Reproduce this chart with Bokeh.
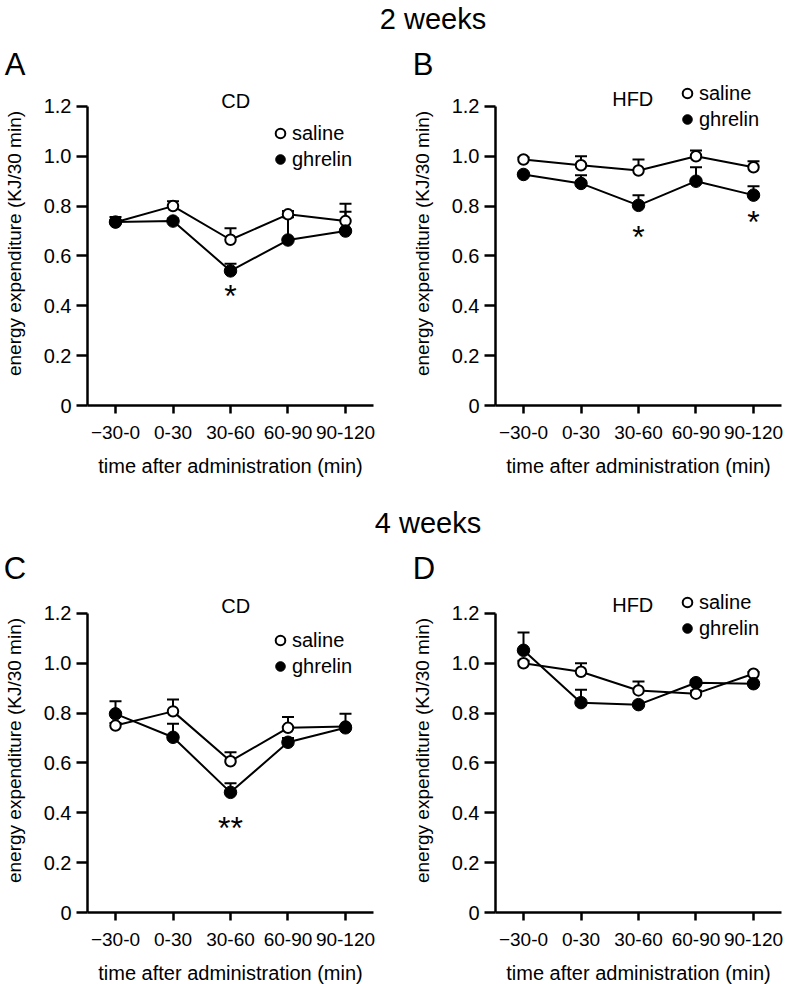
from bokeh.plotting import figure
from bokeh.layouts import column, row
from bokeh.models import (ColumnDataSource, Range1d, FixedTicker, CustomJSTickFormatter,
                          Whisker, TeeHead, Label, Legend, LegendItem)
from bokeh.core.properties import value
from bokeh.embed import file_html
from bokeh.resources import INLINE

# ---------------- data ----------------
categories = ["\u221230-0", "0-30", "30-60", "60-90", "90-120"]
y_ticks = [0, 0.2, 0.4, 0.6, 0.8, 1.0, 1.2]

# A: 2 weeks, CD
a_saline = [0.735, 0.800, 0.665, 0.767, 0.740]
a_saline_top = [0.745, 0.820, 0.711, 0.780, 0.809]
a_ghrelin = [0.736, 0.740, 0.540, 0.664, 0.700]
a_ghrelin_top = [0.756, 0.750, 0.569, 0.755, 0.777]
a_sig_cat = ["30-60"]
a_sig_y = [0.46]
a_sig_text = ["*"]

# B: 2 weeks, HFD
b_saline = [0.987, 0.964, 0.943, 1.000, 0.956]
b_saline_top = [0.995, 1.000, 0.987, 1.023, 0.980]
b_ghrelin = [0.927, 0.891, 0.803, 0.900, 0.844]
b_ghrelin_top = [0.930, 0.924, 0.844, 0.956, 0.880]
b_sig_cat = ["30-60", "90-120"]
b_sig_y = [0.696, 0.756]
b_sig_text = ["*", "*"]

# C: 4 weeks, CD
c_saline = [0.750, 0.807, 0.607, 0.741, 0.746]
c_saline_top = [0.760, 0.855, 0.643, 0.784, 0.797]
c_ghrelin = [0.797, 0.703, 0.482, 0.683, 0.741]
c_ghrelin_top = [0.848, 0.757, 0.519, 0.700, 0.750]
c_sig_cat = ["30-60"]
c_sig_y = [0.36]
c_sig_text = ["**"]

# D: 4 weeks, HFD
d_saline = [1.000, 0.966, 0.891, 0.878, 0.958]
d_saline_top = [1.010, 1.000, 0.927, 0.890, 0.965]
d_ghrelin = [1.052, 0.842, 0.834, 0.922, 0.918]
d_ghrelin_top = [1.123, 0.894, 0.840, 0.930, 0.925]
d_sig_cat = []
d_sig_y = []
d_sig_text = []

# ---------------- style / layout ----------------
FONT = "Liberation Sans"
FRAME_W, FRAME_H = 286, 324
X_RANGE = (-0.487, 4.487)
Y_RANGE = (0, 1.3)


def make_panel(diet, saline, saline_top, ghrelin, ghrelin_top, sig_cat, sig_y, sig_text,
               diet_pos, legend_loc, border_right):
    p = figure(frame_width=FRAME_W, frame_height=FRAME_H,
               min_border_left=87, min_border_right=border_right,
               min_border_top=0, min_border_bottom=85,
               x_range=Range1d(*X_RANGE), y_range=Range1d(*Y_RANGE),
               output_backend="svg", toolbar_location=None, title=None)
    p.outline_line_color = None
    p.xgrid.visible = False
    p.ygrid.visible = False
    p.background_fill_color = "white"
    p.border_fill_color = "white"

    xa = p.xaxis[0]
    ya = p.yaxis[0]
    xa.ticker = FixedTicker(ticks=list(range(len(categories))))
    xa.formatter = CustomJSTickFormatter(args=dict(labels=categories),
                                         code="return labels[Math.round(tick)];")
    ya.ticker = FixedTicker(ticks=y_ticks)
    ya.formatter = CustomJSTickFormatter(code="return tick == 0 ? '0' : tick.toFixed(1);")
    ya.bounds = (0, 1.2)
    for ax in (xa, ya):
        ax.axis_line_width = 2.5
        ax.axis_line_color = "black"
        ax.major_tick_line_width = 2.5
        ax.major_tick_line_color = "black"
        ax.minor_tick_line_color = None
        ax.major_tick_in = 0
        ax.major_label_text_font = FONT
        ax.major_label_text_color = "black"
        ax.axis_label_text_font = FONT
        ax.axis_label_text_font_style = "normal"
        ax.axis_label_text_color = "black"
    xa.major_label_text_font_size = "19px"
    ya.major_label_text_font_size = "20px"
    xa.major_tick_out = 8
    ya.major_tick_out = 11
    ya.major_label_standoff = 5
    xa.major_label_standoff = 12
    xa.axis_label = "time after administration (min)"
    xa.axis_label_standoff = 13
    xa.axis_label_text_font_size = "20px"
    ya.axis_label = "energy expenditure (KJ/30 min)"
    ya.axis_label_standoff = 16
    ya.axis_label_text_font_size = "19px"

    src = ColumnDataSource(dict(x=list(range(len(categories))), saline=saline,
                                saline_top=saline_top, ghrelin=ghrelin,
                                ghrelin_top=ghrelin_top))
    for lo, hi in (("saline", "saline_top"), ("ghrelin", "ghrelin_top")):
        p.add_layout(Whisker(source=src, base="x", lower=lo, upper=hi,
                             line_width=2, line_color="black", lower_head=None,
                             upper_head=TeeHead(size=12, line_width=2, line_color="black")))
    p.line("x", "saline", source=src, line_width=2, line_color="black")
    p.line("x", "ghrelin", source=src, line_width=2, line_color="black")
    r_sal = p.scatter("x", "saline", source=src, size=10.5, fill_color="white",
                      line_color="black", line_width=2)
    r_ghr = p.scatter("x", "ghrelin", source=src, size=12.5, fill_color="black",
                      line_color="black", line_width=1)

    if sig_cat:
        sig = ColumnDataSource(dict(x=[categories.index(c) for c in sig_cat],
                                    y=sig_y, t=sig_text))
        p.text("x", "y", text="t", source=sig, text_font=value(FONT),
               text_font_size="32px", text_align="center",
               text_baseline="alphabetic", y_offset=5, text_color="black")

    p.add_layout(Label(x=diet_pos[0], y=diet_pos[1], text=diet, text_align="center",
                       text_baseline="middle", text_font=FONT, text_font_size="20px",
                       text_color="black"))

    legend = Legend(items=[LegendItem(label="saline", renderers=[r_sal]),
                           LegendItem(label="ghrelin", renderers=[r_ghr])],
                    location=legend_loc, orientation="vertical",
                    padding=0, margin=0, spacing=2, glyph_width=24, glyph_height=24,
                    label_standoff=0, label_height=20,
                    label_text_font=FONT, label_text_font_size="20px",
                    label_text_color="black",
                    border_line_color=None, background_fill_alpha=0)
    p.add_layout(legend)
    return p


def make_title(h, texts):
    t = figure(frame_width=793, frame_height=h, min_border=0,
               x_range=Range1d(0, 793), y_range=Range1d(h, 0),
               x_axis_type=None, y_axis_type=None,
               output_backend="svg", toolbar_location=None, title=None)
    t.outline_line_color = None
    t.xgrid.visible = False
    t.ygrid.visible = False
    for (x, y, s, size) in texts:
        t.add_layout(Label(x=x, y=y, text=s, text_align="center", text_baseline="middle",
                           text_font=FONT, text_font_size=size, text_color="black"))
    return t


title1 = make_title(81, [(432.5, 18, "2 weeks", "29px"),
                         (14.5, 64, "A", "31px"), (422.5, 64, "B", "31px")])
title2 = make_title(98, [(427.5, 32, "4 weeks", "29px"),
                         (14.5, 78, "C", "31px"), (423.5, 78, "D", "31px")])

pa = make_panel("CD", a_saline, a_saline_top, a_ghrelin, a_ghrelin_top,
                a_sig_cat, a_sig_y, a_sig_text, (2.09, 1.222), (181, 234), 35)
pb = make_panel("HFD", b_saline, b_saline_top, b_ghrelin, b_ghrelin_top,
                b_sig_cat, b_sig_y, b_sig_text, (1.9, 1.229), (180, 274), 12)
pc = make_panel("CD", c_saline, c_saline_top, c_ghrelin, c_ghrelin_top,
                c_sig_cat, c_sig_y, c_sig_text, (2.09, 1.229), (181, 234), 35)
pd = make_panel("HFD", d_saline, d_saline_top, d_ghrelin, d_ghrelin_top,
                d_sig_cat, d_sig_y, d_sig_text, (1.9, 1.233), (180, 272), 12)

layout = column(title1, row(pa, pb), title2, row(pc, pd))

open("out.html", "w").write(file_html(layout, INLINE))
